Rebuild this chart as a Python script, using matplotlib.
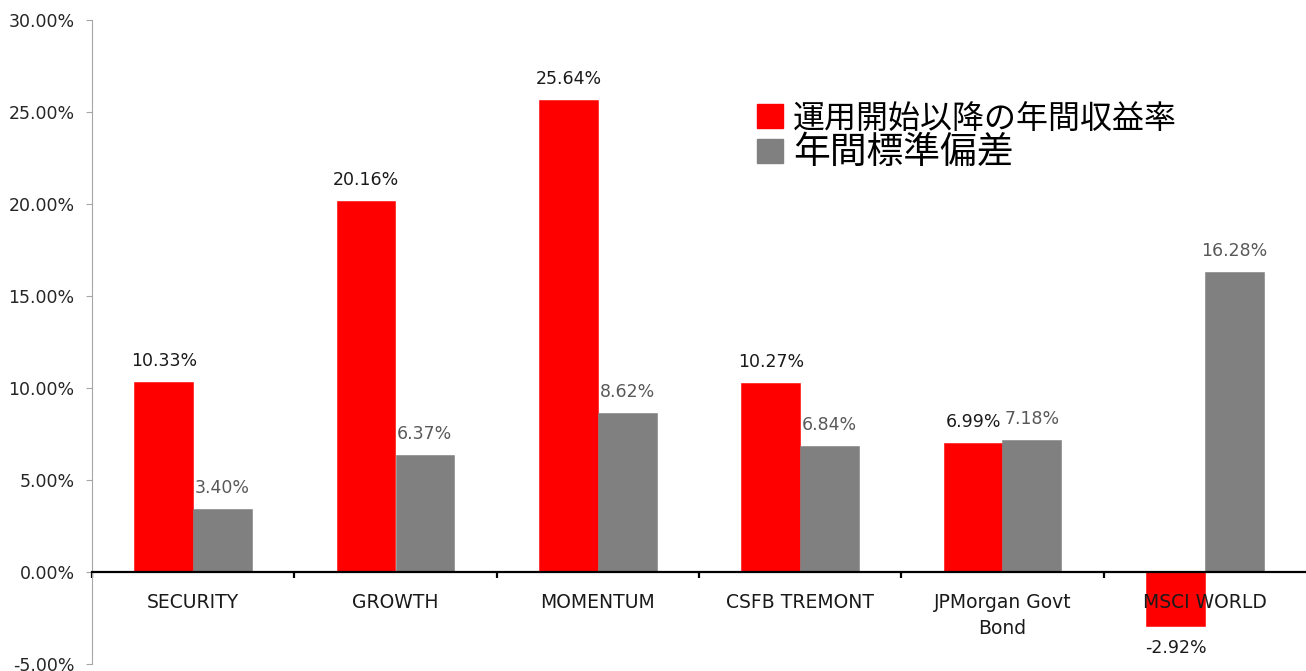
import matplotlib
matplotlib.use("Agg")
import matplotlib.pyplot as plt
import numpy as np
from matplotlib.patches import Rectangle
from matplotlib.ticker import FuncFormatter

# Data (percent)
categories = ["SECURITY", "GROWTH", "MOMENTUM", "CSFB TREMONT", "JPMorgan Govt\nBond", "MSCI WORLD"]
annual_return = [10.33, 20.16, 25.64, 10.27, 6.99, -2.92]
annual_std = [3.40, 6.37, 8.62, 6.84, 7.18, 16.28]
legend_labels = ["運用開始以降の年間収益率", "年間標準偏差"]

red = "#ff0000"
grey = "#808080"

plt.rcParams['font.family'] = ['DejaVu Sans']

fig = plt.figure(figsize=(13.06, 6.71), dpi=100)
ax = fig.add_axes([92 / 1306, 7 / 671, 1214 / 1306, 644 / 671])

x = np.arange(len(categories))
w = 0.29
bars_r = ax.bar(x - w / 2, annual_return, w, color=red, edgecolor=red, linewidth=0.4)
bars_g = ax.bar(x + w / 2, annual_std, w, color=grey, edgecolor=grey, linewidth=0.4)

# value labels
for b, v in zip(bars_r, annual_return):
    cx = b.get_x() + b.get_width() / 2
    if v >= 0:
        ax.annotate(f"{v:.2f}%", (cx, v), xytext=(0, 11.5), textcoords="offset points",
                    ha="center", va="baseline", fontsize=12.5, color="#1a1a1a")
    else:
        ax.annotate(f"{v:.2f}%", (cx, v), xytext=(0, -9.5), textcoords="offset points",
                    ha="center", va="top", fontsize=12.5, color="#1a1a1a")
for b, v in zip(bars_g, annual_std):
    cx = b.get_x() + b.get_width() / 2
    ax.annotate(f"{v:.2f}%", (cx, v), xytext=(0, 11.5), textcoords="offset points",
                ha="center", va="baseline", fontsize=12.5, color="#595959")

ax.set_xlim(-0.5, len(categories) - 0.5)
ax.set_ylim(-5, 30)
ax.set_yticks(np.arange(-5, 31, 5))
ax.yaxis.set_major_formatter(FuncFormatter(lambda v, p: f"{v:.2f}%"))
ax.tick_params(axis="y", direction="out", length=4.5, width=0.8, color="#a6a6a6",
               labelsize=12.5, labelcolor="#262626", pad=8)

# category axis sits on the zero line
ax.spines["bottom"].set_position(("data", 0))
ax.spines["bottom"].set_color("black")
ax.spines["bottom"].set_linewidth(1.6)
ax.spines["top"].set_visible(False)
ax.spines["right"].set_visible(False)
ax.spines["left"].set_color("#a6a6a6")
ax.spines["left"].set_linewidth(0.8)

ax.set_xticks(x)
ax.set_xticklabels(categories, fontsize=13.5, color="#1a1a1a", linespacing=1.45)
ax.set_xticks(np.arange(-0.5, len(categories) - 0.5, 1), minor=True)
ax.tick_params(axis="x", which="major", length=0, pad=15)
ax.tick_params(axis="x", which="minor", direction="out", length=4.5, width=1.6, color="black")

# legend drawn by hand
ax.add_patch(Rectangle((0.5478, 0.8323), 0.0214, 0.0373, transform=ax.transAxes,
                       color=red, clip_on=False))
ax.add_patch(Rectangle((0.5478, 0.778), 0.0214, 0.0373, transform=ax.transAxes,
                       color=grey, clip_on=False))
ax.text(0.5774, 0.845, legend_labels[0], transform=ax.transAxes, fontsize=23,
        va="center", ha="left", family=["Noto Sans CJK JP", "DejaVu Sans"])
ax.text(0.5774, 0.795, legend_labels[1], transform=ax.transAxes, fontsize=26.5,
        va="center", ha="left", family=["Noto Sans CJK JP", "DejaVu Sans"])

fig.savefig("out.png", dpi=100)
